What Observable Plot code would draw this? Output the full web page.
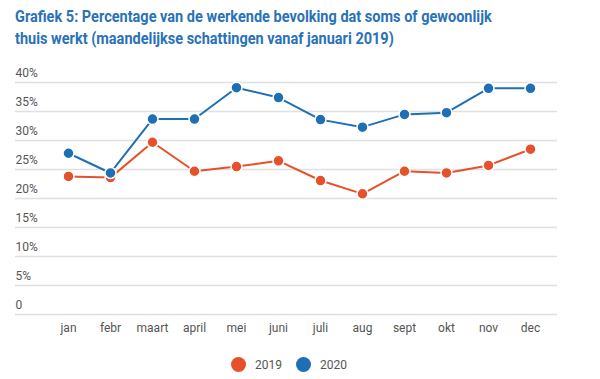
<!DOCTYPE html>
<html>
<head>
<meta charset="utf-8">
<script src="https://cdn.jsdelivr.net/npm/d3@7"></script>
<script src="https://cdn.jsdelivr.net/npm/@observablehq/plot@0.6"></script>
<style>
  body { margin: 0; background: #fff; font-family: Roboto, "Noto Sans", sans-serif; }
  #wrap { position: relative; width: 600px; height: 379px; overflow: hidden; }
  #title { position: absolute; left: 15px; top: 6px; white-space: nowrap; font-size: 16.5px; font-weight: bold; line-height: 22px; color: #2a72b8; transform: scaleX(0.88); transform-origin: left top; }
  #chart { position: absolute; left: 0; top: 60px; }
  #legend { position: absolute; left: 231px; top: 357px; display: flex; align-items: center; font-size: 12px; color: #555; }
  .sw { width: 15px; height: 15px; border-radius: 50%; display: inline-block; margin-right: 9px; }
  .item { display: flex; align-items: center; margin-right: 14px; }
</style>
</head>
<body>
<div id="wrap">
  <div id="title">Grafiek 5: Percentage van de werkende bevolking dat soms of gewoonlijk<br>thuis werkt (maandelijkse schattingen vanaf januari 2019)</div>
  <div id="chart"></div>
  <div id="legend"></div>
</div>
<script>
const months = ["jan", "febr", "maart", "april", "mei", "juni", "juli", "aug", "sept", "okt", "nov", "dec"];
const values2019 = [23.8, 23.6, 29.7, 24.7, 25.5, 26.5, 23.1, 20.8, 24.7, 24.4, 25.7, 28.5];
const values2020 = [27.8, 24.4, 33.7, 33.7, 39.1, 37.4, 33.6, 32.3, 34.5, 34.8, 39.0, 39.0];
const seriesNames = ["2019", "2020"];
const seriesColors = ["#e6502a", "#1f6fb5"];
const yTicks = [0, 5, 10, 15, 20, 25, 30, 35, 40];

const data = [];
months.forEach((m, i) => {
  data.push({month: m, year: "2019", value: values2019[i]});
  data.push({month: m, year: "2020", value: values2020[i]});
});

const plot = Plot.plot({
  width: 600,
  height: 285,
  marginTop: 22,
  marginBottom: 31,
  marginLeft: 15,
  marginRight: 43,
  style: {fontFamily: "Roboto, sans-serif", fontSize: "12px", color: "#555", background: "#fff"},
  x: {type: "point", domain: months, range: [63, 535], padding: 0, label: null},
  y: {domain: [0, 40], axis: null},
  color: {domain: seriesNames, range: seriesColors},
  marks: [
    Plot.gridY(yTicks, {stroke: "#e0e0e0", strokeOpacity: 1, strokeWidth: 1.5}),
    Plot.text(yTicks, {y: d => d, frameAnchor: "left", textAnchor: "start", dy: -9, text: d => d === 0 ? "0" : d + "%", fill: "#555", fontSize: 12}),
    Plot.axisX({tickSize: 0, tickPadding: 9, fontSize: 12, color: "#555", label: null}),
    Plot.line(data, {x: "month", y: "value", z: "year", stroke: "year", strokeWidth: 2}),
    Plot.dot(data, {x: "month", y: "value", fill: "year", stroke: "white", strokeWidth: 1.5, r: 5.5})
  ]
});
document.getElementById("chart").appendChild(plot);

const legend = document.getElementById("legend");
seriesNames.forEach((name, i) => {
  const item = document.createElement("div");
  item.className = "item";
  const sw = document.createElement("span");
  sw.className = "sw";
  sw.style.background = seriesColors[i];
  item.appendChild(sw);
  item.appendChild(document.createTextNode(name));
  legend.appendChild(item);
});
</script>
</body>
</html>
